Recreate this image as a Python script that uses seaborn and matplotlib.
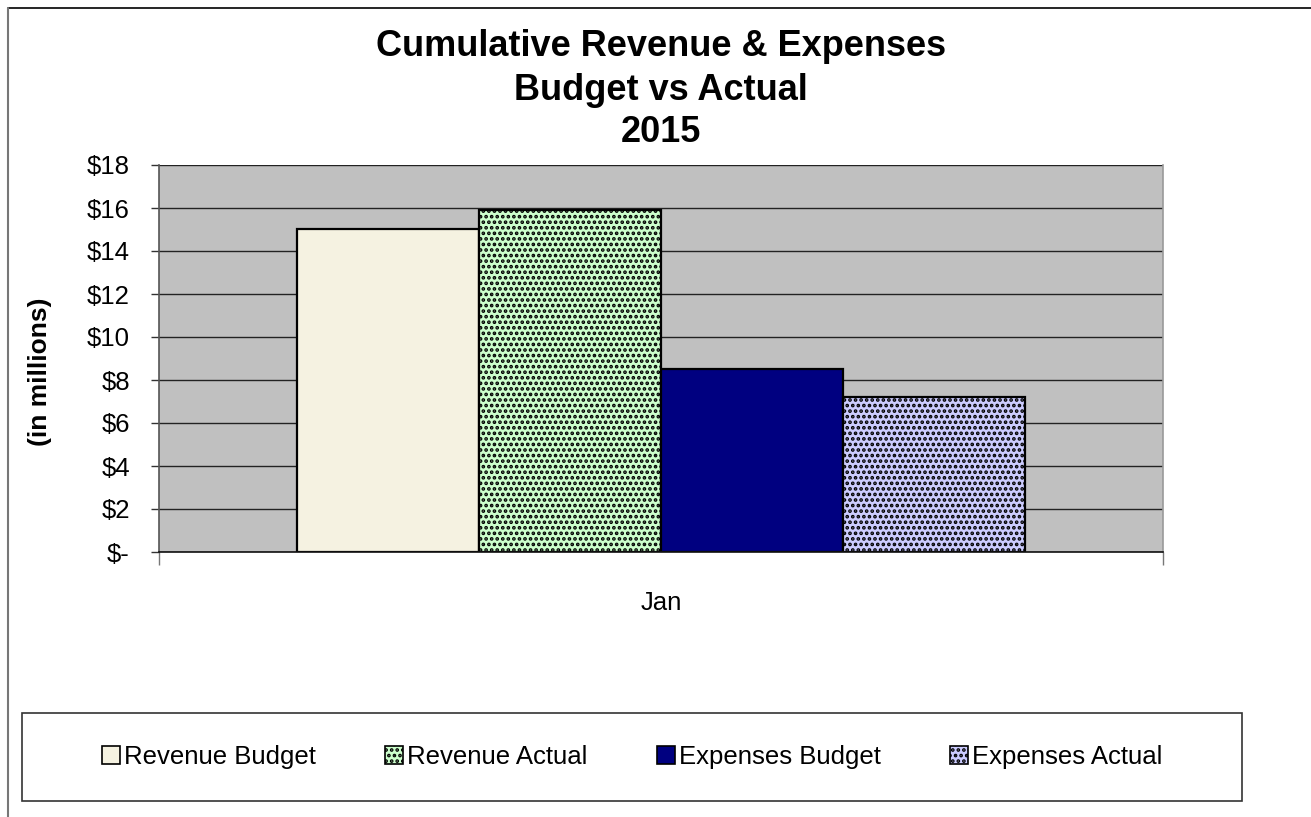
import matplotlib
matplotlib.use("Agg")
import matplotlib.pyplot as plt
from matplotlib.patches import Rectangle, Patch
from matplotlib.lines import Line2D
from matplotlib.ticker import FuncFormatter
import seaborn as sns
import pandas as pd

# Data (in millions of dollars)
months = ["Jan"]
series = ["Revenue Budget", "Revenue Actual", "Expenses Budget", "Expenses Actual"]
values = [15.0, 15.9, 8.5, 7.2]
colors = ["#F5F2E1", "#CCFFCC", "#000080", "#CCCCFF"]
hatches = [None, "...", None, "..."]

df = pd.DataFrame({"month": months * len(series), "series": series, "value": values})

sns.set_theme(style="white")
plt.rcParams["font.family"] = ["Liberation Sans", "DejaVu Sans"]
plt.rcParams["text.color"] = "black"
plt.rcParams["axes.labelcolor"] = "black"
plt.rcParams["xtick.color"] = "black"
plt.rcParams["ytick.color"] = "black"
plt.rcParams["hatch.linewidth"] = 1.8
plt.rcParams["hatch.color"] = "black"

W, H = 1311, 817
fig = plt.figure(figsize=(W / 100, H / 100), dpi=100)
fig.patch.set_facecolor("white")
ax = fig.add_axes([159 / W, 1 - 552 / H, (1163 - 159) / W, (552 - 165) / H])
ax.set_facecolor("#C0C0C0")

sns.barplot(data=df, x="month", y="value", hue="series", hue_order=series,
            palette=colors, width=0.726, edgecolor="black", linewidth=1.6,
            saturation=1, legend=False, ax=ax)

bars = [p for p in ax.patches if isinstance(p, Rectangle)]
for p, h in zip(bars, hatches):
    if h:
        p.set_hatch(h)

ax.set_ylim(0, 18)
ax.set_xlim(-0.5, 0.5)
ax.set_yticks(range(0, 19, 2))
ax.yaxis.set_major_formatter(FuncFormatter(lambda v, _: "$-" if v == 0 else f"${v:.0f}"))
ax.grid(axis="y", color="#222222", linewidth=1.0)
ax.set_axisbelow(True)
ax.tick_params(axis="y", which="major", direction="out", length=6, width=1,
               color="#333333", labelsize=18.5, pad=15, left=True)
ax.set_xticks([0])
ax.set_xticklabels(months)
ax.tick_params(axis="x", which="major", length=0, labelsize=18.5, pad=28)
ax.set_xticks([-0.5, 0.5], minor=True)
ax.tick_params(axis="x", which="minor", direction="out", length=9, width=1,
               color="#777777", bottom=True)
ax.set_xlabel("")
ax.set_ylabel("")
ax.spines["top"].set_visible(False)
ax.spines["left"].set_color("#555555")
ax.spines["right"].set_color("#999999")
ax.spines["bottom"].set_color("#111111")
for s in ax.spines.values():
    s.set_linewidth(1.2)

# Titles
title_lines = ["Cumulative Revenue & Expenses", "Budget vs Actual", "2015"]
for i, line in enumerate(title_lines):
    fig.text(661 / W, 1 - (47 + 43 * i) / H, line, ha="center", va="center",
             fontsize=26, fontweight="bold")

fig.text(40 / W, 1 - 372 / H, "(in millions)", rotation=90, ha="center",
         va="center", fontsize=19, fontweight="bold")

# Outer chart border
fig.add_artist(Line2D([8 / W, 1.0], [1 - 8 / H, 1 - 8 / H], color="black", lw=1.2,
                      transform=fig.transFigure))
fig.add_artist(Line2D([8 / W, 8 / W], [1 - 8 / H, 0], color="#777777", lw=1.5,
                      transform=fig.transFigure))

# Legend box
fig.add_artist(Rectangle((22 / W, 1 - 801 / H), (1242 - 22) / W, (801 - 713) / H,
                         transform=fig.transFigure, facecolor="white",
                         edgecolor="#333333", lw=1.2))
handles = [Patch(facecolor=c, edgecolor="black", hatch=h, lw=1.2)
           for c, h in zip(colors, hatches)]
fig.legend(handles, series, loc="center", bbox_to_anchor=(632 / W, 1 - 757 / H),
           ncol=4, frameon=False, fontsize=18.5, handlelength=0.7, handleheight=0.7,
           handletextpad=0.15, columnspacing=2.7)

fig.savefig("out.png", dpi=100)
